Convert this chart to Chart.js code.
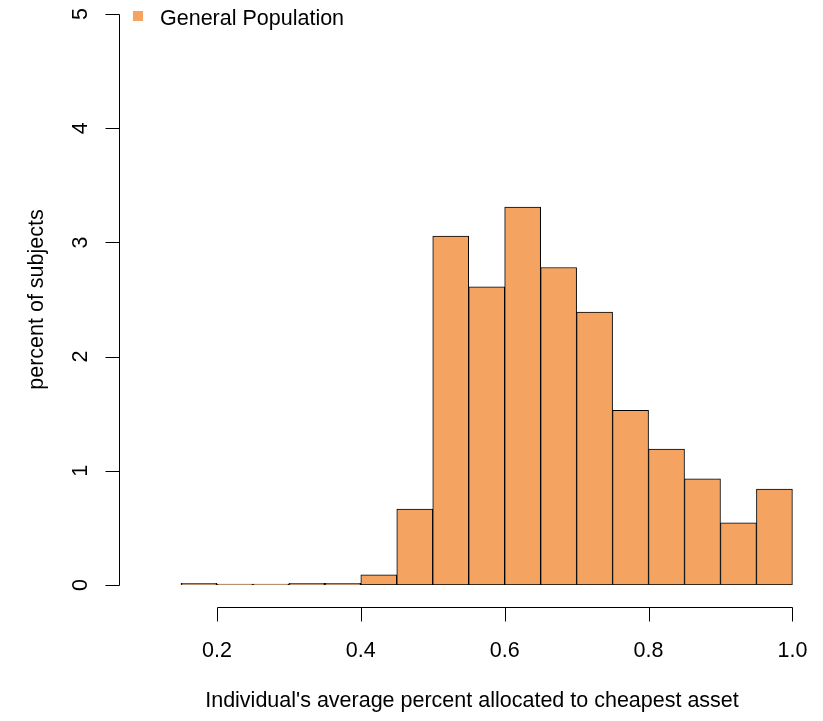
<!DOCTYPE html>
<html>
<head>
<meta charset="utf-8">
<title>General Population histogram</title>
<script src="https://cdn.jsdelivr.net/npm/chart.js@4.4.1/dist/chart.umd.min.js"></script>
<style>
  body { margin: 0; background: #fff; }
  #wrap { width: 823px; height: 721px; }
</style>
</head>
<body>
<div id="wrap"><canvas id="histChart" width="823" height="721"></canvas></div>
<script>
// histogram bins (centres, width 0.05) and heights in percent of subjects
const binCenters = [0.175, 0.225, 0.275, 0.325, 0.375, 0.425, 0.475, 0.525, 0.575,
  0.625, 0.675, 0.725, 0.775, 0.825, 0.875, 0.925, 0.975];
const percentValues = [0.015, 0, 0, 0.015, 0.015, 0.09, 0.665, 3.055, 2.61,
  3.31, 2.78, 2.39, 1.53, 1.19, 0.93, 0.545, 0.84];
const xTicks = [0.2, 0.4, 0.6, 0.8, 1.0];
const xTickLabels = ["0.2", "0.4", "0.6", "0.8", "1.0"];
const yTicks = [0, 1, 2, 3, 4, 5];

const FONT = "21.5px 'Liberation Sans', Arial, sans-serif";
const barColor = "#F4A460";

// R-style axes, titles and legend drawn on top of the chart area
const baseAxes = {
  id: "baseAxes",
  afterDraw(chart) {
    const ctx = chart.ctx;
    const xs = chart.scales.x, ys = chart.scales.y;
    ctx.save();
    ctx.strokeStyle = "#000";
    ctx.fillStyle = "#000";
    ctx.lineWidth = 1;
    ctx.font = FONT;

    // y axis
    const ax = 119.5;
    const yTop = ys.getPixelForValue(yTicks[yTicks.length - 1]);
    const yBot = ys.getPixelForValue(yTicks[0]);
    ctx.beginPath();
    ctx.moveTo(ax, Math.round(yTop) + 0.5);
    ctx.lineTo(ax, Math.round(yBot) + 0.5);
    yTicks.forEach(v => {
      const py = Math.round(ys.getPixelForValue(v)) + 0.5;
      ctx.moveTo(ax, py);
      ctx.lineTo(ax - 14, py);
    });
    ctx.stroke();
    ctx.textAlign = "center";
    ctx.textBaseline = "middle";
    yTicks.forEach(v => {
      const py = ys.getPixelForValue(v);
      ctx.save();
      ctx.translate(81, py);
      ctx.rotate(-Math.PI / 2);
      ctx.fillText(String(v), 0, 0);
      ctx.restore();
    });

    // x axis
    const ay = 607.5;
    const x0 = Math.round(xs.getPixelForValue(xTicks[0])) + 0.5;
    const x1 = Math.round(xs.getPixelForValue(xTicks[xTicks.length - 1])) + 0.5;
    ctx.beginPath();
    ctx.moveTo(x0, ay);
    ctx.lineTo(x1, ay);
    xTicks.forEach(v => {
      const px = Math.round(xs.getPixelForValue(v)) + 0.5;
      ctx.moveTo(px, ay);
      ctx.lineTo(px, ay + 14);
    });
    ctx.stroke();
    xTicks.forEach((v, i) => {
      ctx.fillText(xTickLabels[i], xs.getPixelForValue(v), 651);
    });

    // titles
    ctx.fillText("Individual's average percent allocated to cheapest asset", 472, 701);
    ctx.save();
    ctx.translate(37, (yTop + yBot) / 2);
    ctx.rotate(-Math.PI / 2);
    ctx.fillText("percent of subjects", 0, 0);
    ctx.restore();

    // legend
    ctx.fillStyle = barColor;
    ctx.fillRect(133, 11, 10, 10);
    ctx.fillStyle = "#000";
    ctx.textAlign = "left";
    ctx.fillText(chart.data.datasets[0].label, 160, 19);
    ctx.restore();
  }
};

new Chart(document.getElementById("histChart").getContext("2d"), {
  type: "bar",
  data: {
    datasets: [{
      label: "General Population",
      data: binCenters.map((c, i) => ({ x: c, y: percentValues[i] })),
      backgroundColor: barColor,
      borderColor: "#000",
      borderWidth: 1,
      borderSkipped: false,
      barPercentage: 1,
      categoryPercentage: 1,
      minBarLength: 1
    }]
  },
  options: {
    responsive: false,
    animation: false,
    devicePixelRatio: 1,
    layout: { padding: { left: 145, right: 9, top: 14, bottom: 136 } },
    plugins: { legend: { display: false }, tooltip: { enabled: false } },
    scales: {
      x: { type: "linear", min: 0.1, max: 1.03, offset: false, display: false },
      y: { min: 0, max: 5, display: false }
    }
  },
  plugins: [baseAxes]
});
</script>
</body>
</html>
